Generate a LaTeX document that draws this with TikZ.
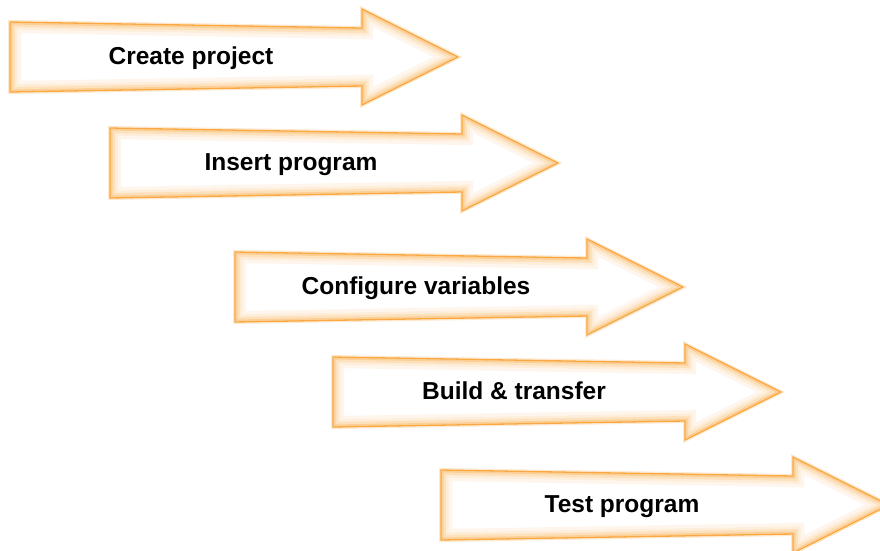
\documentclass[tikz,border=0pt]{standalone}
\usepackage{fontspec}
\setmainfont{Liberation Sans}
\definecolor{glowc}{RGB}{249,168,66}
\tikzset{
  edgeline/.style={draw=glowc, line width=1.3pt, line join=miter},
  outerglow/.style={draw=glowc!25, line width=4pt, line join=miter},
  lbl/.style={font=\bfseries\fontsize{24.5}{28}\selectfont, text=black, inner sep=0pt, anchor=base}
}
\def\arrowpath{(0,-35) -- (352,-29) -- (352,-48) -- (448,0) -- (352,48) -- (352,29) -- (0,35) -- cycle}
\newcommand\flowarrow[4]{%
\begin{scope}[shift={(#1,#2)}]
  \draw[outerglow] \arrowpath;
  \fill[white] \arrowpath;
  \begin{scope}
    \clip \arrowpath;
    \draw[glowc!10, line width=22pt] \arrowpath;
    \draw[glowc!20, line width=15pt] \arrowpath;
    \draw[glowc!35, line width=10pt] \arrowpath;
    \draw[glowc!55, line width=5pt] \arrowpath;
  \end{scope}
  \draw[edgeline] \arrowpath;
  \node[lbl] (#3) at (181,7.5) {#4};
\end{scope}}
\begin{document}
\begin{tikzpicture}[x=1pt,y=-1pt]
\useasboundingbox (0,0) rectangle (880,550);
\fill[white] (0,0) rectangle (880,550);
\flowarrow{10}{57}{create}{Create project}
\flowarrow{110}{163}{insert}{Insert program}
\flowarrow{235}{287}{config}{Configure variables}
\flowarrow{333}{392}{build}{Build \& transfer}
\flowarrow{441}{505}{test}{Test program}
\end{tikzpicture}
\end{document}
